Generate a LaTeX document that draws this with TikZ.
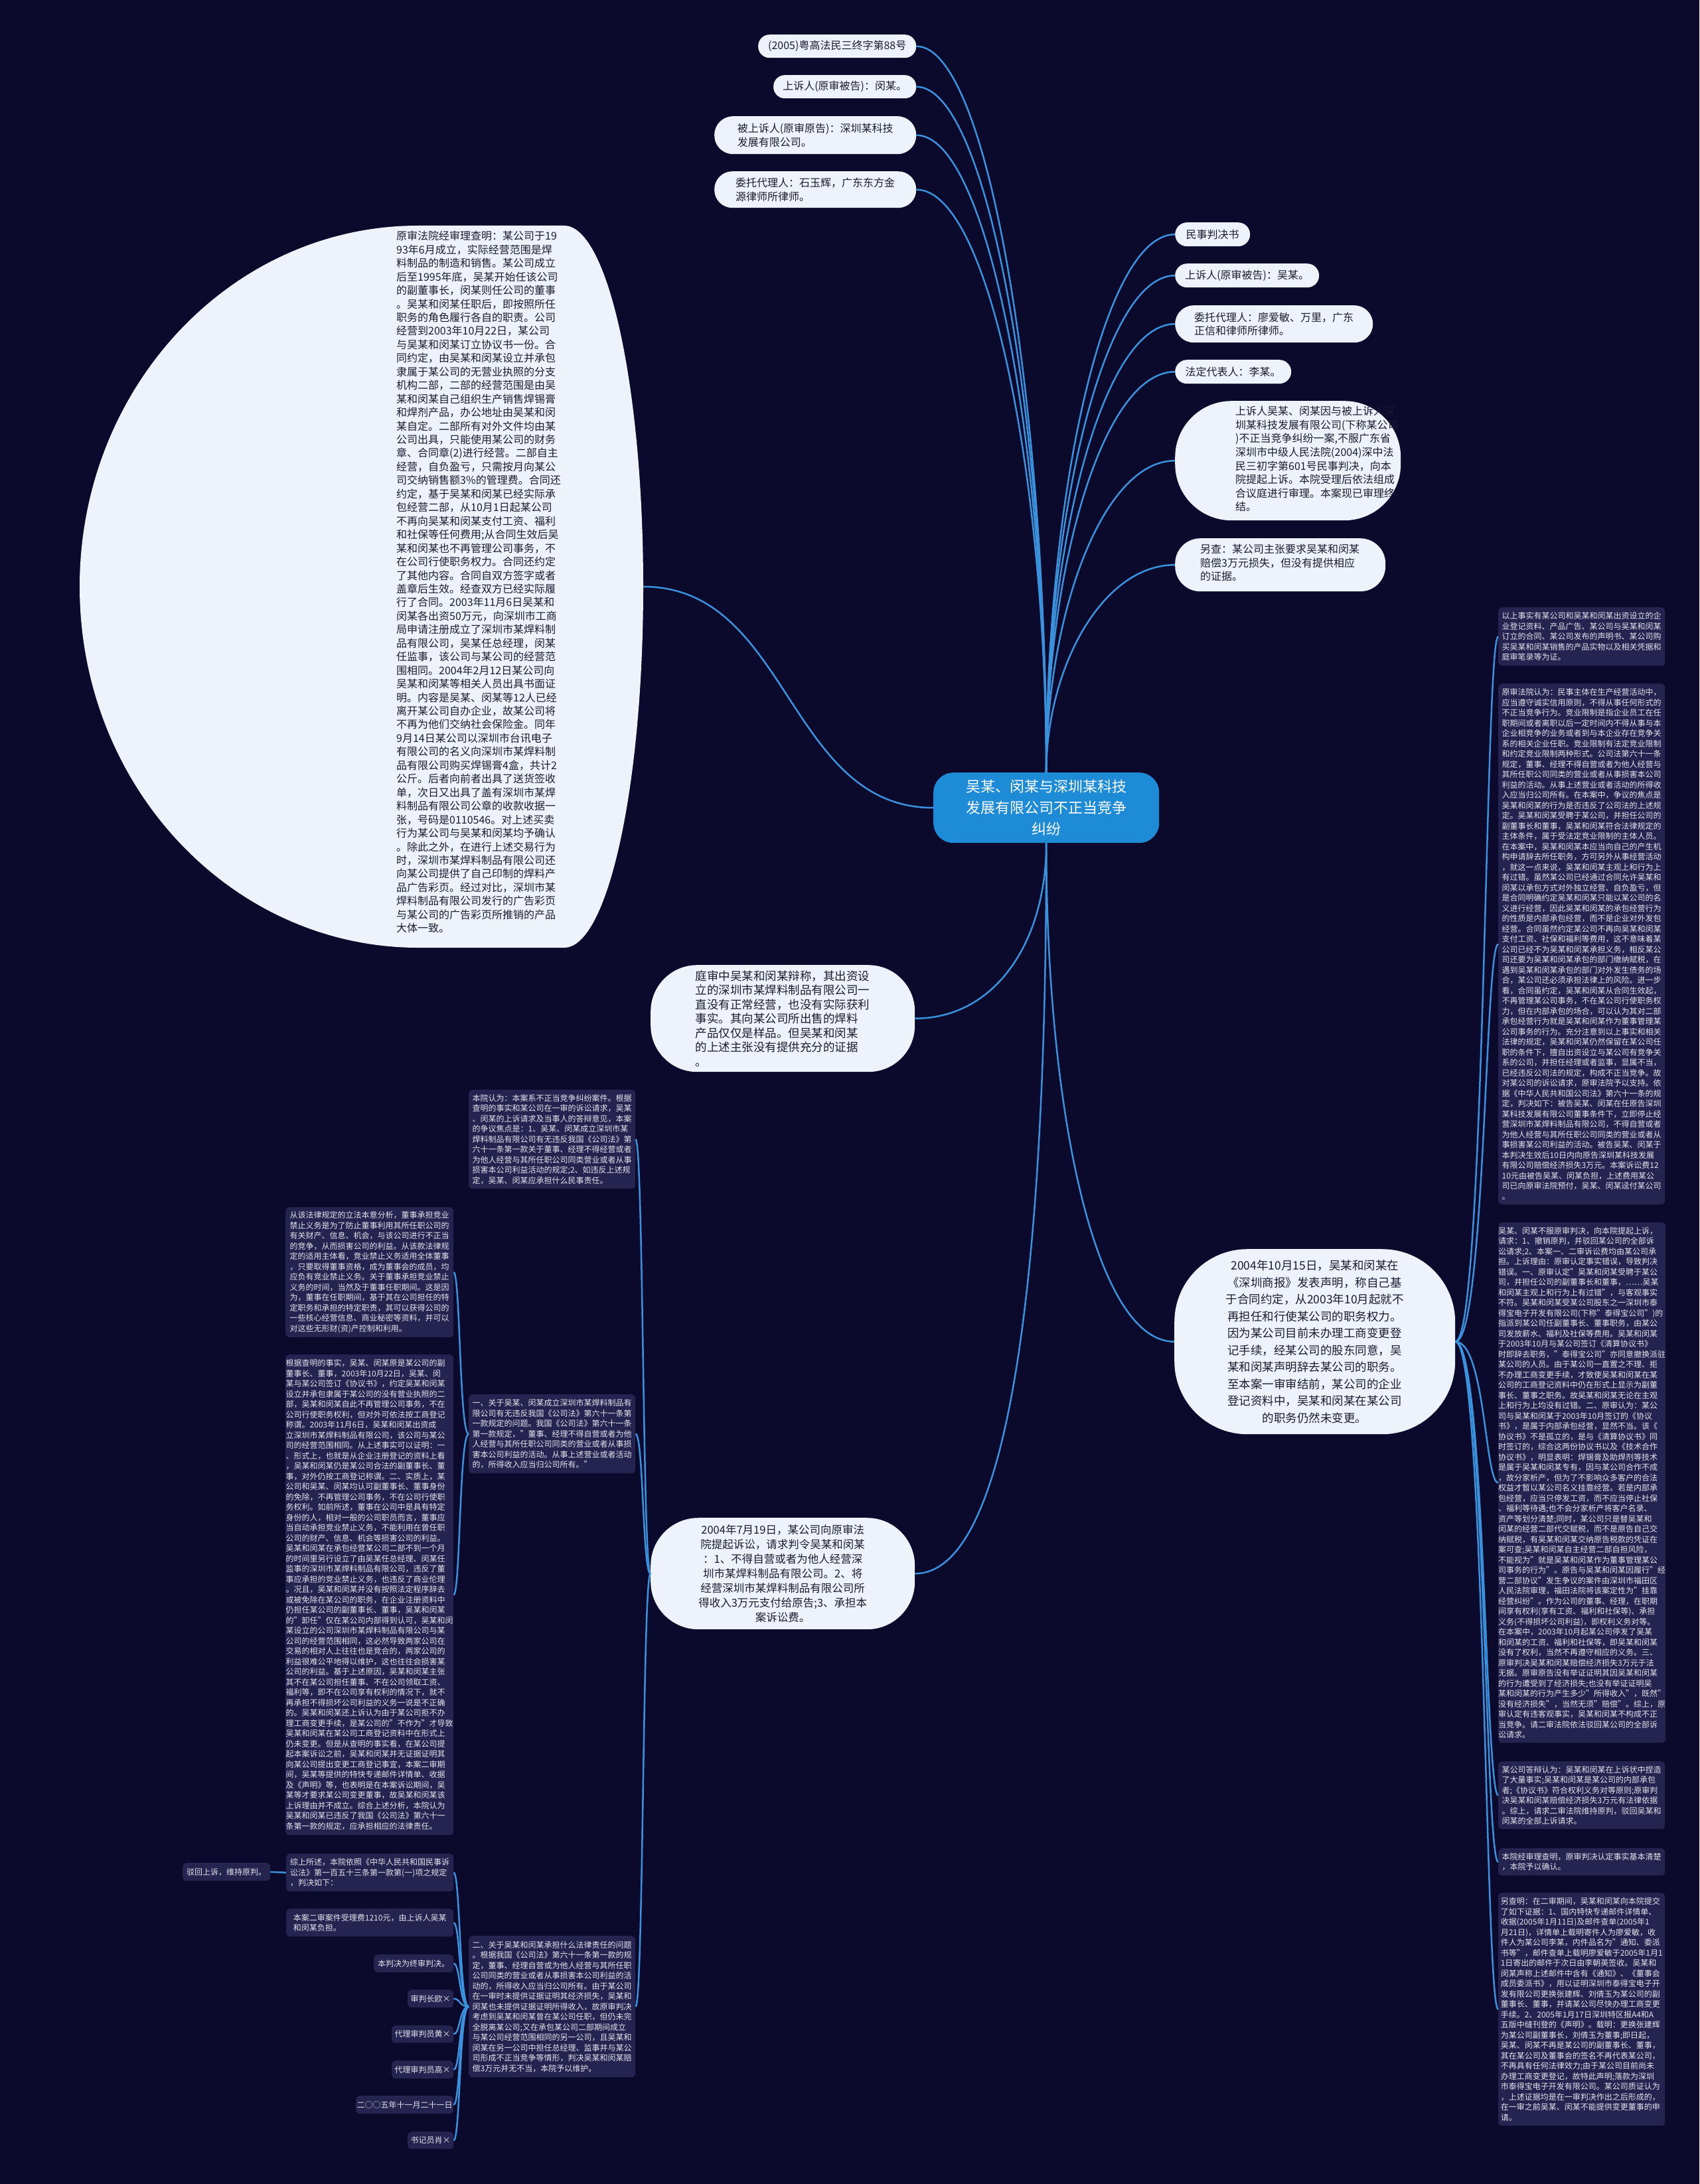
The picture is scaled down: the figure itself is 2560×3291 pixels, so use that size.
\documentclass[tikz,border=0pt]{standalone}
\usepackage{fontspec}
\setmainfont{Noto Sans CJK SC}
\usetikzlibrary{calc,shapes.geometric}
\definecolor{bg}{HTML}{0B0A2D}
\definecolor{wfill}{HTML}{EEF2FB}
\definecolor{dfill}{HTML}{25234F}
\definecolor{rootc}{HTML}{1E8BD6}
\definecolor{linec}{HTML}{3A92DC}
\definecolor{wtext}{HTML}{1C1C30}
\definecolor{dtext}{HTML}{E4E4EE}
\tikzset{
 conn/.style={draw=linec, line width=2.5pt},
 wnode/.style={fill=wfill, text=wtext, inner sep=0pt, align=left, font=\fontsize{16}{20.5}\selectfont},
 wtxt/.style={text=wtext, inner sep=0pt, align=left, anchor=north west, font=\fontsize{16}{20.6}\selectfont},
 dnode/.style={fill=dfill, text=dtext, inner sep=0pt, align=left, rounded corners=6pt, anchor=north west, font=\fontsize{12}{15.5}\selectfont},
 bx/.style args={#1x#2}{minimum width=#1pt, minimum height=#2pt},
}
\begin{document}
\begin{tikzpicture}[x=1pt,y=-1pt]
\useasboundingbox (0,0) rectangle (2560,3291);
\fill[bg] (0,0) rectangle (2560,3291);

% root
\node[fill=rootc, text=white, rounded corners=30pt, bx=340x106, align=center, inner sep=0pt,
  font=\fontsize{22}{32}\selectfont, anchor=north west] (root) at (1406,1164)
  {吴某、闵某与深圳某科技\\发展有限公司不正当竞争\\纠纷};

% top-left labels
\node[wnode, rounded corners=17pt, bx=238x35, anchor=north west] (L1) at (1142,52) {(2005)粤高法民三终字第88号};
\node[wnode, rounded corners=17pt, bx=215x35, anchor=north west] (L2) at (1165,113) {上诉人(原审被告)：闵某。};
\node[wnode, rounded corners=28pt, bx=304x57, anchor=north west] (L3) at (1076,175) {被上诉人(原审原告)：深圳某科技\\发展有限公司。};
\node[wnode, rounded corners=27pt, bx=304x55, anchor=north west] (L4) at (1076,258) {委托代理人：石玉辉，广东东方金\\源律师所律师。};

% right labels
\node[wnode, rounded corners=18pt, bx=113x36, anchor=north west] (R1) at (1770,335) {民事判决书};
\node[wnode, rounded corners=18pt, bx=217x36, anchor=north west] (R2) at (1770,397) {上诉人(原审被告)：吴某。};
\node[wnode, rounded corners=28pt, bx=298x56, anchor=north west] (R3) at (1770,460) {委托代理人：廖爱敏、万里，广东\\正信和律师所律师。};
\node[wnode, rounded corners=18pt, bx=175x36, anchor=north west] (R4) at (1770,542) {法定代表人：李某。};
\node[wnode, rounded corners=85pt, bx=340x180, anchor=north west] (R5) at (1770,604) {};
\node[wtxt] (R5t) at (1861,612) {上诉人吴某、闵某因与被上诉人深\\圳某科技发展有限公司(下称某公司\\)不正当竞争纠纷一案,不服广东省\\深圳市中级人民法院(2004)深中法\\民三初字第601号民事判决，向本\\院提起上诉。本院受理后依法组成\\合议庭进行审理。本案现已审理终\\结。};
\node[wnode, rounded corners=38pt, bx=317x80, anchor=north west] (R6) at (1770,811) {};
\node[wtxt] (R6t) at (1808,820) {另查：某公司主张要求吴某和闵某\\赔偿3万元损失，但没有提供相应\\的证据。};

% big rounded bubble
\fill[wfill] (630,340) -- (850,340) arc[start angle=90, end angle=-90, x radius=119pt, y radius=544pt]
  -- (630,1428) arc[start angle=270, end angle=90, x radius=510pt, y radius=544pt] -- cycle;
\coordinate (circE) at (969,884);
\node[wtxt, font=\fontsize{16}{20.45}\selectfont] (circt) at (597,348) {原审法院经审理查明：某公司于19\\93年6月成立，实际经营范围是焊\\料制品的制造和销售。某公司成立\\后至1995年底，吴某开始任该公司\\的副董事长，闵某则任公司的董事\\。吴某和闵某任职后，即按照所任\\职务的角色履行各自的职责。公司\\经营到2003年10月22日，某公司\\与吴某和闵某订立协议书一份。合\\同约定，由吴某和闵某设立并承包\\隶属于某公司的无营业执照的分支\\机构二部，二部的经营范围是由吴\\某和闵某自己组织生产销售焊锡膏\\和焊剂产品，办公地址由吴某和闵\\某自定。二部所有对外文件均由某\\公司出具，只能使用某公司的财务\\章、合同章(2)进行经营。二部自主\\经营，自负盈亏，只需按月向某公\\司交纳销售额3\%的管理费。合同还\\约定，基于吴某和闵某已经实际承\\包经营二部，从10月1日起某公司\\不再向吴某和闵某支付工资、福利\\和社保等任何费用;从合同生效后吴\\某和闵某也不再管理公司事务，不\\在公司行使职务权力。合同还约定\\了其他内容。合同自双方签字或者\\盖章后生效。经查双方已经实际履\\行了合同。2003年11月6日吴某和\\闵某各出资50万元，向深圳市工商\\局申请注册成立了深圳市某焊料制\\品有限公司，吴某任总经理，闵某\\任监事，该公司与某公司的经营范\\围相同。2004年2月12日某公司向\\吴某和闵某等相关人员出具书面证\\明。内容是吴某、闵某等12人已经\\离开某公司自办企业，故某公司将\\不再为他们交纳社会保险金。同年\\9月14日某公司以深圳市台讯电子\\有限公司的名义向深圳市某焊料制\\品有限公司购买焊锡膏4盒，共计2\\公斤。后者向前者出具了送货签收\\单，次日又出具了盖有深圳市某焊\\料制品有限公司公章的收款收据一\\张，号码是0110546。对上述买卖\\行为某公司与吴某和闵某均予确认\\。除此之外，在进行上述交易行为\\时，深圳市某焊料制品有限公司还\\向某公司提供了自己印制的焊料产\\品广告彩页。经过对比，深圳市某\\焊料制品有限公司发行的广告彩页\\与某公司的广告彩页所推销的产品\\大体一致。};

% mid nodes
\node[wnode, rounded corners=70pt, bx=398x161, anchor=north west, font=\fontsize{17.5}{21.5}\selectfont] (mid) at (980,1454) {庭审中吴某和闵某辩称，其出资设\\立的深圳市某焊料制品有限公司一\\直没有正常经营，也没有实际获利\\事实。其向某公司所出售的焊料\\产品仅仅是样品。但吴某和闵某\\的上述主张没有提供充分的证据\\。};
\node[wnode, rounded corners=72pt, bx=398x168, anchor=north west, align=center, font=\fontsize{16.5}{22}\selectfont] (tj) at (980,2287) {2004年7月19日，某公司向原审法\\院提起诉讼，请求判令吴某和闵某\\：1、不得自营或者为他人经营深\\圳市某焊料制品有限公司。2、将\\经营深圳市某焊料制品有限公司所\\得收入3万元支付给原告;3、承担本\\案诉讼费。};
\node[wnode, rounded corners=110pt, bx=423x279, anchor=north west, align=center, font=\fontsize{17.5}{25.5}\selectfont] (ot) at (1769,1882) {2004年10月15日，吴某和闵某在\\《深圳商报》发表声明，称自己基\\于合同约定，从2003年10月起就不\\再担任和行使某公司的职务权力。\\因为某公司目前未办理工商变更登\\记手续，经某公司的股东同意，吴\\某和闵某声明辞去某公司的职务。\\至本案一审审结前，某公司的企业\\登记资料中，吴某和闵某在某公司\\的职务仍然未变更。};

% right dark boxes
\node[dnode, bx=251x88] (A) at (2257,915) {以上事实有某公司和吴某和闵某出资设立的企\\业登记资料、产品广告、某公司与吴某和闵某\\订立的合同、某公司发布的声明书、某公司购\\买吴某和闵某销售的产品实物以及相关凭据和\\庭审笔录等为证。};
\node[dnode, bx=251x785] (B) at (2257,1030) {原审法院认为：民事主体在生产经营活动中，\\应当遵守诚实信用原则，不得从事任何形式的\\不正当竞争行为。竞业限制是指企业员工在任\\职期间或者离职以后一定时间内不得从事与本\\企业相竞争的业务或者到与本企业存在竞争关\\系的相关企业任职。竞业限制有法定竞业限制\\和约定竞业限制两种形式。公司法第六十一条\\规定，董事、经理不得自营或者为他人经营与\\其所任职公司同类的营业或者从事损害本公司\\利益的活动。从事上述营业或者活动的所得收\\入应当归公司所有。在本案中，争议的焦点是\\吴某和闵某的行为是否违反了公司法的上述规\\定。吴某和闵某受聘于某公司，并担任公司的\\副董事长和董事，吴某和闵某符合法律规定的\\主体条件，属于受法定竞业限制的主体人员。\\在本案中，吴某和闵某本应当向自己的产生机\\构申请辞去所任职务，方可另外从事经营活动\\，就这一点来说，吴某和闵某主观上和行为上\\有过错。虽然某公司已经通过合同允许吴某和\\闵某以承包方式对外独立经营、自负盈亏，但\\是合同明确约定吴某和闵某只能以某公司的名\\义进行经营，因此吴某和闵某的承包经营行为\\的性质是内部承包经营，而不是企业对外发包\\经营。合同虽然约定某公司不再向吴某和闵某\\支付工资、社保和福利等费用，这不意味着某\\公司已经不为吴某和闵某承担义务，相反某公\\司还要为吴某和闵某承包的部门缴纳赋税，在\\遇到吴某和闵某承包的部门对外发生债务的场\\合，某公司还必须承担法律上的风险。进一步\\看，合同虽约定，吴某和闵某从合同生效起，\\不再管理某公司事务，不在某公司行使职务权\\力，但在内部承包的场合，可以认为其对二部\\承包经营行为就是吴某和闵某作为董事管理某\\公司事务的行为。充分注意到以上事实和相关\\法律的规定，吴某和闵某仍然保留在某公司任\\职的条件下，擅自出资设立与某公司有竞争关\\系的公司，并担任经理或者监事，显属不当，\\已经违反公司法的规定，构成不正当竞争。故\\对某公司的诉讼请求，原审法院予以支持。依\\据《中华人民共和国公司法》第六十一条的规\\定，判决如下：被告吴某、闵某在任原告深圳\\某科技发展有限公司董事条件下，立即停止经\\营深圳市某焊料制品有限公司，不得自营或者\\为他人经营与其所任职公司同类的营业或者从\\事损害某公司利益的活动。被告吴某、闵某于\\本判决生效后10日内向原告深圳某科技发展\\有限公司赔偿经济损失3万元。本案诉讼费12\\10元由被告吴某、闵某负担，上述费用某公\\司已向原审法院预付，吴某、闵某迳付某公司\\。};
\node[dnode, bx=251x784] (C) at (2257,1842) {吴某、闵某不服原审判决，向本院提起上诉，\\请求：1、撤销原判，并驳回某公司的全部诉\\讼请求;2、本案一、二审诉讼费均由某公司承\\担。上诉理由：原审认定事实错误，导致判决\\错误。一、原审认定"吴某和闵某受聘于某公\\司，并担任公司的副董事长和董事，……吴某\\和闵某主观上和行为上有过错"，与客观事实\\不符。吴某和闵某受某公司股东之一深圳市泰\\得宝电子开发有限公司(下称"泰得宝公司")的\\指派到某公司任副董事长、董事职务，由某公\\司发放薪水、福利及社保等费用。吴某和闵某\\于2003年10月与某公司签订《清算协议书》\\时即辞去职务，"泰得宝公司"亦同意撤换派驻\\某公司的人员。由于某公司一直置之不理、拒\\不办理工商变更手续，才致使吴某和闵某在某\\公司的工商登记资料中仍在形式上显示为副董\\事长、董事之职务。故吴某和闵某无论在主观\\上和行为上均没有过错。二、原审认为：某公\\司与吴某和闵某于2003年10月签订的《协议\\书》，是属于内部承包经营，显然不当。该《\\协议书》不是孤立的，是与《清算协议书》同\\时签订的，综合这两份协议书以及《技术合作\\协议书》，明显表明：焊锡膏及助焊剂等技术\\是属于吴某和闵某专有，因与某公司合作不成\\，故分家析产，但为了不影响众多客户的合法\\权益才暂以某公司名义挂靠经营。若是内部承\\包经营，应当只停发工资，而不应当停止社保\\、福利等待遇;也不会分家析产将客户名录、\\资产等划分清楚;同时，某公司只是替吴某和\\闵某的经营二部代交赋税，而不是原告自己交\\纳赋税，有吴某和闵某交纳原告税款的凭证在\\案可查;吴某和闵某自主经营二部自担风险，\\不能视为"就是吴某和闵某作为董事管理某公\\司事务的行为"。原告与吴某和闵某因履行"经\\营二部协议"发生争议的案件由深圳市福田区\\人民法院审理，福田法院将该案定性为"挂靠\\经营纠纷"。作为公司的董事、经理，在职期\\间享有权利(享有工资、福利和社保等)、承担\\义务(不得损坏公司利益)，即权利义务对等。\\在本案中，2003年10月起某公司停发了吴某\\和闵某的工资、福利和社保等，即吴某和闵某\\没有了权利，当然不再遵守相应的义务。三、\\原审判决吴某和闵某赔偿经济损失3万元于法\\无据。原审原告没有举证证明其因吴某和闵某\\的行为遭受到了经济损失;也没有举证证明吴\\某和闵某的行为产生多少"所得收入"，既然"\\没有经济损失"，当然无须"赔偿"。综上，原\\审认定有违客观事实，吴某和闵某不构成不正\\当竞争。请二审法院依法驳回某公司的全部诉\\讼请求。};
\node[dnode, bx=251x102] (D) at (2257,2654) {某公司答辩认为：吴某和闵某在上诉状中捏造\\了大量事实;吴某和闵某是某公司的内部承包\\者;《协议书》符合权利义务对等原则;原审判\\决吴某和闵某赔偿经济损失3万元有法律依据\\。综上，请求二审法院维持原判，驳回吴某和\\闵某的全部上诉请求。};
\node[dnode, bx=251x41] (E) at (2257,2785) {本院经审理查明，原审判决认定事实基本清楚\\，本院予以确认。};
\node[dnode, bx=251x351] (F) at (2257,2852) {另查明：在二审期间，吴某和闵某向本院提交\\了如下证据：1、国内特快专递邮件详情单、\\收据(2005年1月11日)及邮件查单(2005年1\\月21日)，详情单上载明寄件人为廖爱敏，收\\件人为某公司李某，内件品名为"通知、委派\\书等"，邮件查单上载明廖爱敏于2005年1月1\\1日寄出的邮件于次日由李朝英签收。吴某和\\闵某声称上述邮件中含有《通知》、《董事会\\成员委派书》，用以证明深圳市泰得宝电子开\\发有限公司更换张建辉、刘倩玉为某公司的副\\董事长、董事，并请某公司尽快办理工商变更\\手续。2、2005年1月17日深圳特区报A4和A\\五版中缝刊登的《声明》。载明：更换张建辉\\为某公司副董事长，刘倩玉为董事;即日起，\\吴某、闵某不再是某公司的副董事长、董事，\\其在某公司及董事会的签名不再代表某公司，\\不再具有任何法律效力;由于某公司目前尚未\\办理工商变更登记，故特此声明;落款为深圳\\市泰得宝电子开发有限公司。某公司质证认为\\，上述证据均是在一审判决作出之后形成的，\\在一审之前吴某、闵某不能提供变更董事的申\\请。};

% left dark boxes
\node[dnode, bx=251x149] (P1) at (706,1642) {本院认为：本案系不正当竞争纠纷案件。根据\\查明的事实和某公司在一审的诉讼请求，吴某\\、闵某的上诉请求及当事人的答辩意见，本案\\的争议焦点是：1、吴某、闵某成立深圳市某\\焊料制品有限公司有无违反我国《公司法》第\\六十一条第一款关于董事、经理不得经营或者\\为他人经营与其所任职公司同类营业或者从事\\损害本公司利益活动的规定;2、如违反上述规\\定，吴某、闵某应承担什么民事责任。};
\node[dnode, bx=251x119] (P2) at (706,2101) {一、关于吴某、闵某成立深圳市某焊料制品有\\限公司有无违反我国《公司法》第六十一条第\\一款规定的问题。我国《公司法》第六十一条\\第一款规定，"董事、经理不得自营或者为他\\人经营与其所任职公司同类的营业或者从事损\\害本公司利益的活动。从事上述营业或者活动\\的，所得收入应当归公司所有。"};
\node[dnode, bx=251x213] (P3) at (706,2917) {二、关于吴某和闵某承担什么法律责任的问题\\。根据我国《公司法》第六十一条第一款的规\\定，董事、经理自营或为他人经营与其所任职\\公司同类的营业或者从事损害本公司利益的活\\动的，所得收入应当归公司所有。由于某公司\\在一审时未提供证据证明其经济损失，吴某和\\闵某也未提供证据证明所得收入，故原审判决\\考虑到吴某和闵某曾在某公司任职，但仍未完\\全脱离某公司;又在承包某公司二部期间成立\\与某公司经营范围相同的另一公司，且吴某和\\闵某在另一公司中担任总经理、监事并与某公\\司形成不正当竞争等情形，判决吴某和闵某赔\\偿3万元并无不当，本院予以维护。};
\node[dnode, bx=253x196] (Q1) at (430,1819) {从该法律规定的立法本意分析，董事承担竞业\\禁止义务是为了防止董事利用其所任职公司的\\有关财产、信息、机会，与该公司进行不正当\\的竞争，从而损害公司的利益。从该款法律规\\定的适用主体看，竞业禁止义务适用全体董事\\，只要取得董事资格，成为董事会的成员，均\\应负有竞业禁止义务。关于董事承担竞业禁止\\义务的时间，当然及于董事任职期间。这是因\\为，董事在任职期间，基于其在公司担任的特\\定职务和承担的特定职责，其可以获得公司的\\一些核心经营信息、商业秘密等资料，并可以\\对这些无形财(资)产控制和利用。};
\node[dnode, bx=253x724] (Q2) at (430,2041) {根据查明的事实，吴某、闵某原是某公司的副\\董事长、董事，2003年10月22日，吴某、闵\\某与某公司签订《协议书》，约定吴某和闵某\\设立并承包隶属于某公司的没有营业执照的二\\部，吴某和闵某自此不再管理公司事务，不在\\公司行使职务权利，但对外可依法按工商登记\\称谓。2003年11月6日，吴某和闵某出资成\\立深圳市某焊料制品有限公司，该公司与某公\\司的经营范围相同。从上述事实可以证明：一\\、形式上，也就是从企业注册登记的资料上看\\，吴某和闵某仍是某公司合法的副董事长、董\\事，对外仍按工商登记称谓。二、实质上，某\\公司和吴某、闵某均认可副董事长、董事身份\\的免除，不再管理公司事务，不在公司行使职\\务权利。如前所述，董事在公司中是具有特定\\身份的人，相对一般的公司职员而言，董事应\\当自动承担竞业禁止义务，不能利用在曾任职\\公司的财产、信息、机会等损害公司的利益。\\吴某和闵某在承包经营某公司二部不到一个月\\的时间里另行设立了由吴某任总经理、闵某任\\监事的深圳市某焊料制品有限公司，违反了董\\事应承担的竞业禁止义务，也违反了商业伦理\\。况且，吴某和闵某并没有按照法定程序辞去\\或被免除在某公司的职务，在企业注册资料中\\仍担任某公司的副董事长、董事，吴某和闵某\\的"卸任"仅在某公司内部得到认可，吴某和闵\\某设立的公司深圳市某焊料制品有限公司与某\\公司的经营范围相同，这必然导致两家公司在\\交易的相对人上往往也是竞合的，两家公司的\\利益很难公平地得以维护，这也往往会损害某\\公司的利益。基于上述原因，吴某和闵某主张\\其不在某公司担任董事、不在公司领取工资、\\福利等，即不在公司享有权利的情况下，就不\\再承担不得损坏公司利益的义务一说是不正确\\的。吴某和闵某还上诉认为由于某公司拒不办\\理工商变更手续，是某公司的"不作为"才导致\\吴某和闵某在某公司工商登记资料中在形式上\\仍未变更。但是从查明的事实看，在某公司提\\起本案诉讼之前，吴某和闵某并无证据证明其\\向某公司提出变更工商登记事宜，本案二审期\\间，吴某等提供的特快专递邮件详情单、收据\\及《声明》等，也表明是在本案诉讼期间，吴\\某等才要求某公司变更董事，故吴某和闵某该\\上诉理由并不成立。综合上述分析，本院认为\\吴某和闵某已违反了我国《公司法》第六十一\\条第一款的规定，应承担相应的法律责任。};
\node[dnode, bx=252x57] (S1) at (431,2793) {综上所述，本院依照《中华人民共和国民事诉\\讼法》第一百五十三条第一款第(一)项之规定\\，判决如下：};
\node[dnode, bx=252x42] (S2) at (431,2876) {本案二审案件受理费1210元，由上诉人吴某\\和闵某负担。};
\node[dnode, bx=120x27] (S3) at (563,2945) {本判决为终审判决。};
\node[dnode, bx=69x27] (S4) at (614,2998) {审判长欧×};
\node[dnode, bx=93x26] (S5) at (590,3052) {代理审判员黄×};
\node[dnode, bx=93x27] (S6) at (590,3105) {代理审判员高×};
\node[dnode, bx=147x27] (S7) at (536,3158) {二○○五年十一月二十一日};
\node[dnode, bx=69x26] (S8) at (614,3212) {书记员肖×};
\node[dnode, bx=132x27] (S9) at (275,2807) {驳回上诉，维持原判。};

% connectors: root to top-left
\draw[conn] (root.north) .. controls +(0,-547) and +(110,0) .. (L1.east);
\draw[conn] (root.north) .. controls +(0,-517) and +(110,0) .. (L2.east);
\draw[conn] (root.north) .. controls +(0,-480) and +(110,0) .. (L3.east);
\draw[conn] (root.north) .. controls +(0,-439) and +(110,0) .. (L4.east);
% root to right labels
\draw[conn] (root.north) .. controls +(0,-405) and +(-110,0) .. (R1.west);
\draw[conn] (root.north) .. controls +(0,-375) and +(-110,0) .. (R2.west);
\draw[conn] (root.north) .. controls +(0,-338) and +(-110,0) .. (R3.west);
\draw[conn] (root.north) .. controls +(0,-302) and +(-110,0) .. (R4.west);
\draw[conn] (root.north) .. controls +(0,-235) and +(-110,0) .. (R5.west);
\draw[conn] (root.north) .. controls +(0,-157) and +(-110,0) .. (R6.west);
% root to left / lower
\draw[conn] (root.west) .. controls +(-220,0) and +(220,0) .. (circE);
\draw[conn] (root.south) .. controls +(0,150) and +(120,0) .. (mid.east);
\draw[conn] (root.south) .. controls +(0,600) and +(150,0) .. (tj.east);
\draw[conn] (root.south) .. controls +(0,400) and +(-120,0) .. (ot.west);
% 10/15 to right column
\foreach \b in {A,B,C,D,E,F}{
  \draw[conn] (ot.east) .. controls +(45,0) and +(-20,0) .. (\b.west);
}
% 7/19 to left column
\foreach \b in {P1,P2,P3}{
  \draw[conn] (tj.west) .. controls +(-12,0) and +(12,0) .. (\b.east);
}
\foreach \b in {Q1,Q2}{
  \draw[conn] (P2.west) .. controls +(-14,0) and +(10,0) .. (\b.east);
}
\foreach \b in {S1,S2,S3,S4,S5,S6,S7,S8}{
  \draw[conn] (P3.west) .. controls +(-14,0) and +(10,0) .. (\b.east);
}
\draw[conn] (S1.west) -- (S9.east);
\end{tikzpicture}
\end{document}
